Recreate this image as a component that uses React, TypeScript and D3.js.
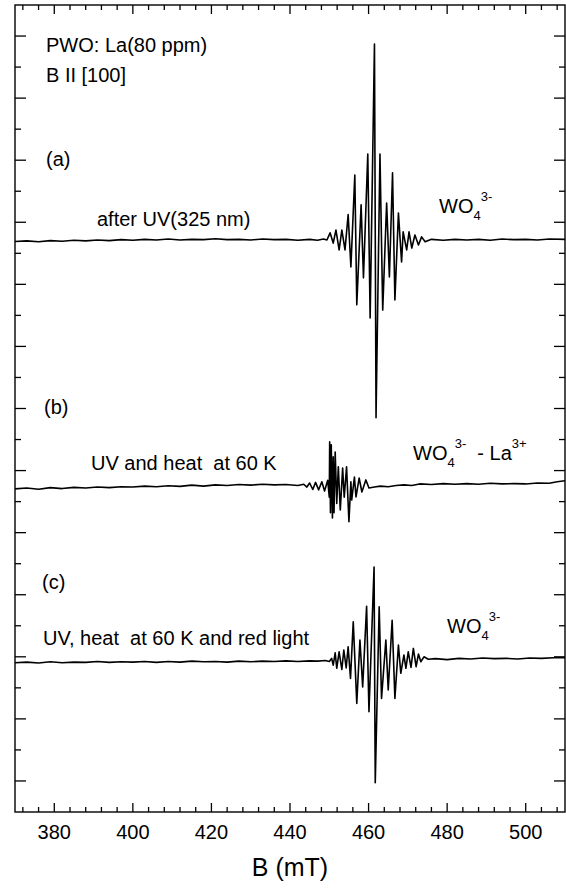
import React from 'react';
import * as d3 from 'd3';

// ---- data (B in mT, signal in arbitrary intensity units) ----
const fieldDomain: [number, number] = [370, 510];
const fieldMajorTicks = [380, 400, 420, 440, 460, 480, 500];
const fieldMinorStep = 4;
const intensityDomain: [number, number] = [0, 26];

const traceOffsets = [18.43, 10.44, 4.83];

// (a) after UV(325 nm)
const traceA: [number, number][] = [
  [370, -0.05], [373, -0.03], [376, -0.06], [379, -0.02], [382, -0.04], [385, -0.01], [388, -0.03],
  [391, 0.0], [394, -0.02], [397, 0.01], [400, -0.01], [403, 0.02], [406, 0.0], [409, 0.03],
  [412, 0.0], [415, 0.02], [418, 0.01], [421, 0.04], [424, 0.01], [427, 0.02], [430, 0.0],
  [433, 0.03], [436, 0.01], [439, 0.02], [442, -0.01], [445, 0.02], [447, -0.01], [448.5, 0.03],
  [449.4, 0.0], [450.2, 0.23], [451.0, -0.1], [451.7, 0.32], [452.5, -0.32], [453.2, 0.32],
  [454.0, -0.32], [454.8, 0.82], [455.5, -0.87], [456.5, 2.09], [457.0, -2.09], [458.1, 1.13],
  [458.7, -1.22], [459.8, 2.77], [460.4, -2.51], [461.5, 6.31], [461.9, -5.73], [462.9, 2.77],
  [463.6, -2.26], [464.6, 1.19], [465.3, -1.19], [466.1, 2.16], [466.7, -1.93], [467.6, 0.87],
  [468.4, -0.71], [468.8, 0.26], [469.7, -0.32], [470.3, 0.26], [471.0, -0.26], [471.8, 0.16],
  [472.7, -0.16], [473.5, 0.1], [474.4, -0.06], [476, 0.02], [479, -0.01], [482, 0.02],
  [485, 0.0], [488, 0.02], [491, -0.01], [494, 0.03], [497, 0.01], [500, 0.02], [503, 0.0],
  [506, 0.03], [510, 0.02],
];

// (b) UV and heat at 60 K
const traceB: [number, number][] = [
  [370, -0.03], [373, 0.0], [376, -0.04], [379, 0.01], [382, -0.02], [385, 0.02], [388, 0.0],
  [391, 0.03], [394, 0.01], [397, 0.04], [400, 0.03], [403, 0.06], [406, 0.04], [409, 0.07],
  [412, 0.05], [415, 0.09], [418, 0.06], [421, 0.1], [424, 0.08], [427, 0.11], [430, 0.09],
  [433, 0.12], [436, 0.1], [439, 0.11], [442, 0.08], [443.5, 0.12], [444.3, 0.03], [445.0, 0.16],
  [445.8, -0.05], [446.5, 0.18], [447.3, -0.06], [448.1, 0.2], [448.8, -0.1], [449.6, 0.25],
  [450.0, -0.3], [450.1, 1.49], [450.3, -0.8], [450.5, 1.39], [450.8, -0.97], [451.0, 1.0],
  [451.2, -0.8], [451.5, 1.16], [451.9, -0.5], [452.3, 0.68], [452.8, -0.71], [453.4, 0.64],
  [453.8, -0.3], [454.4, 0.68], [455.0, -1.09], [455.5, 0.2], [455.7, -0.39], [456.4, 0.35],
  [456.8, -0.29], [457.6, 0.32], [458.3, -0.13], [459.3, 0.26], [460.1, 0.0], [461.5, 0.03],
  [463, 0.06], [465, 0.04], [467, 0.08], [469, 0.1], [471, 0.08], [473, 0.13], [476, 0.11],
  [479, 0.14], [482, 0.12], [485, 0.14], [488, 0.12], [491, 0.15], [494, 0.13], [497, 0.14],
  [500, 0.13], [503, 0.16], [506, 0.15], [508, 0.2], [510, 0.23],
];

// (c) UV, heat at 60 K and red light
const traceC: [number, number][] = [
  [370, -0.02], [373, 0.0], [376, -0.03], [379, 0.01], [382, -0.02], [385, 0.0], [388, -0.01],
  [391, 0.02], [394, -0.01], [397, 0.01], [400, 0.0], [403, 0.02], [406, -0.01], [409, 0.02],
  [412, 0.0], [415, 0.03], [418, 0.01], [421, 0.02], [424, 0.0], [427, 0.03], [430, 0.01],
  [433, 0.03], [436, 0.02], [439, 0.04], [442, 0.02], [445, 0.04], [447, 0.03], [449, 0.05],
  [450.0, 0.02], [450.6, 0.12], [451.0, -0.1], [451.5, 0.3], [451.9, -0.2], [452.5, 0.33],
  [453.2, -0.24], [453.7, 0.39], [454.3, -0.19], [454.8, 0.49], [455.4, -0.53], [456.1, 1.3],
  [457.0, -1.33], [457.8, 0.71], [458.5, -0.8], [459.5, 1.8], [460.1, -1.6], [461.4, 3.06],
  [461.7, -3.89], [462.7, 1.78], [463.3, -1.17], [464.4, 0.71], [465.0, -0.9], [466.0, 1.35],
  [466.7, -1.17], [467.6, 0.55], [468.2, -0.36], [469.0, 0.23], [469.5, -0.2], [470.1, 0.33],
  [470.8, -0.17], [471.4, 0.44], [472.1, -0.15], [472.7, 0.26], [473.3, 0.01], [474.1, 0.17],
  [475.2, 0.09], [477, 0.11], [480, 0.08], [483, 0.12], [486, 0.1], [489, 0.13], [492, 0.11],
  [495, 0.12], [498, 0.1], [501, 0.13], [504, 0.12], [507, 0.14], [510, 0.14],
];

const traces = [traceA, traceB, traceC];

const FONT = '"Liberation Sans", Arial, Helvetica, sans-serif';

export default function App() {
  const W = 566, H = 888;
  const left = 15, right = 565, top = 5, bottom = 812;
  const x = d3.scaleLinear().domain(fieldDomain).range([left, right]);
  const y = d3.scaleLinear().domain(intensityDomain).range([bottom, top]);
  const line = d3.line<[number, number]>().x(d => x(d[0])).y(d => y(d[1]));

  const minorTicks = d3.range(fieldDomain[0] + 2, fieldDomain[1], fieldMinorStep)
    .filter(v => !fieldMajorTicks.includes(v));
  const yTicks = d3.range(intensityDomain[0] + 1, intensityDomain[1]);

  const tickStroke = { stroke: '#000', strokeWidth: 1.3 };

  return (
    <svg width={W} height={H} viewBox={`0 0 ${W} ${H}`}
      style={{ position: 'absolute', left: 0, top: 0, background: '#fff' }}
      fontFamily={FONT}>
      <rect x={0} y={0} width={W} height={H} fill="#fff" />
      {/* traces */}
      {traces.map((t, i) => (
        <path key={i}
          d={line(t.map(d => [d[0], d[1] + traceOffsets[i]] as [number, number])) || ''}
          fill="none" stroke="#000" strokeWidth={1.6} strokeLinejoin="round" />
      ))}
      {/* frame */}
      <rect x={left} y={top} width={right - left} height={bottom - top}
        fill="none" stroke="#000" strokeWidth={1.4} />
      {/* x ticks bottom & top */}
      {fieldMajorTicks.map(v => (
        <g key={'M' + v}>
          <line x1={x(v)} x2={x(v)} y1={bottom} y2={bottom - 9} {...tickStroke} />
          <line x1={x(v)} x2={x(v)} y1={top} y2={top + 9} {...tickStroke} />
          <text x={x(v)} y={839} fontSize={20} textAnchor="middle">{v}</text>
        </g>
      ))}
      {minorTicks.map(v => (
        <g key={'m' + v}>
          <line x1={x(v)} x2={x(v)} y1={bottom} y2={bottom - 5} {...tickStroke} />
          <line x1={x(v)} x2={x(v)} y1={top} y2={top + 5} {...tickStroke} />
        </g>
      ))}
      {/* y ticks left & right */}
      {yTicks.map(v => {
        const len = v % 2 === 1 ? 11 : 6;
        return (
          <g key={'y' + v}>
            <line x1={left} x2={left + len} y1={y(v)} y2={y(v)} {...tickStroke} />
            <line x1={right} x2={right - len} y1={y(v)} y2={y(v)} {...tickStroke} />
          </g>
        );
      })}
      {/* axis title */}
      <text x={(left + right) / 2} y={876} fontSize={25} textAnchor="middle">B (mT)</text>

      {/* annotations */}
      <g fontSize={20}>
        <text x={46} y={52}>PWO: La(80 ppm)</text>
        <text x={46} y={82}>B II [100]</text>
        <text x={46} y={166}>(a)</text>
        <text x={97} y={226}>after UV(325 nm)</text>
        <text x={439} y={213}>WO<tspan dy={7} fontSize={13}>4</tspan><tspan dy={-19} fontSize={13}>3-</tspan></text>

        <text x={44} y={414}>(b)</text>
        <text x={91} y={470} style={{ whiteSpace: 'pre' }}>UV and heat  at 60 K</text>
        <text x={413} y={460} style={{ whiteSpace: 'pre' }}>WO<tspan dy={7} fontSize={13}>4</tspan><tspan dy={-19} fontSize={13}>3-</tspan><tspan dy={12} fontSize={20}>{'  - La'}</tspan><tspan dy={-12} fontSize={13}>3+</tspan></text>

        <text x={42} y={589}>(c)</text>
        <text x={43} y={645} style={{ whiteSpace: 'pre' }}>UV, heat  at 60 K and red light</text>
        <text x={447} y={633}>WO<tspan dy={7} fontSize={13}>4</tspan><tspan dy={-19} fontSize={13}>3-</tspan></text>
      </g>
    </svg>
  );
}
